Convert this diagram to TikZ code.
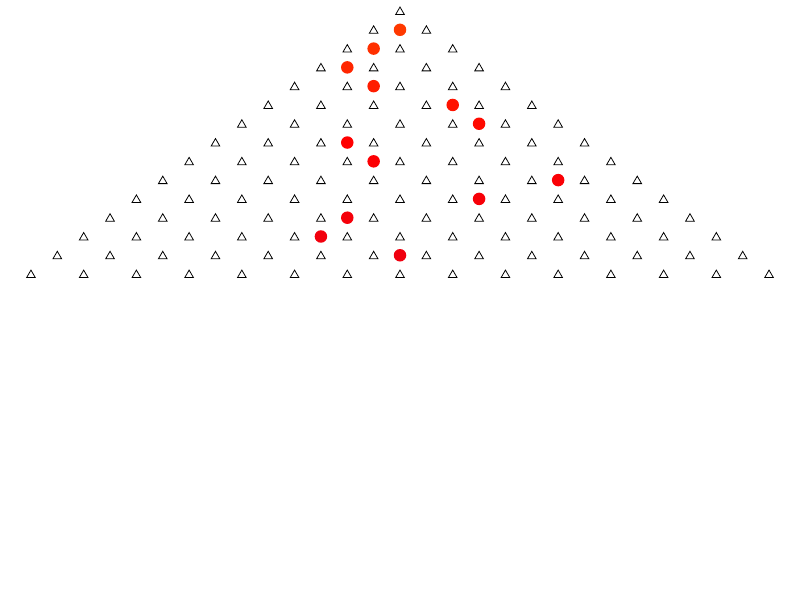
\documentclass[tikz,border=0pt]{standalone}
\usepackage{xcolor}
\usepackage{tikz}
\usetikzlibrary{shapes.geometric}
\tikzset{
  peg/.style={regular polygon, regular polygon sides=3, draw=black, line width=0.45pt, inner sep=0pt, minimum size=0.2cm},
  ball/.style={circle, inner sep=0pt, minimum size=0.25cm},
}

\begin{document}
\begin{tikzpicture}[x=0.02cm, y=-0.02cm]
  \useasboundingbox (0,0) rectangle (800,600);
  % pegs of the board
  \foreach \n in {0,...,14} {
    \foreach \k in {0,...,\n} {
      \node[peg] (p-\n-\k) at ({400+26.36*(2*\k-\n)}, {12+18.79*\n}) {};
    }
  }
  % path of the ball, one per row
  \foreach \r/\j in {1/0, 2/-1, 3/-2, 4/-1, 5/2, 6/3, 7/-2, 8/-1, 9/6, 10/3, 11/-2, 12/-3, 13/0} {
    \pgfmathtruncatemacro{\pct}{min(100,55+45*(\r-1)/6)}
    \pgfmathtruncatemacro{\blu}{100-max(0,(\r-7))}
    \node[ball, fill=red!\pct!orange!\blu!blue] (b-\r) at ({400+26.36*\j}, {11+18.79*\r}) {};
  }
\end{tikzpicture}
\end{document}
